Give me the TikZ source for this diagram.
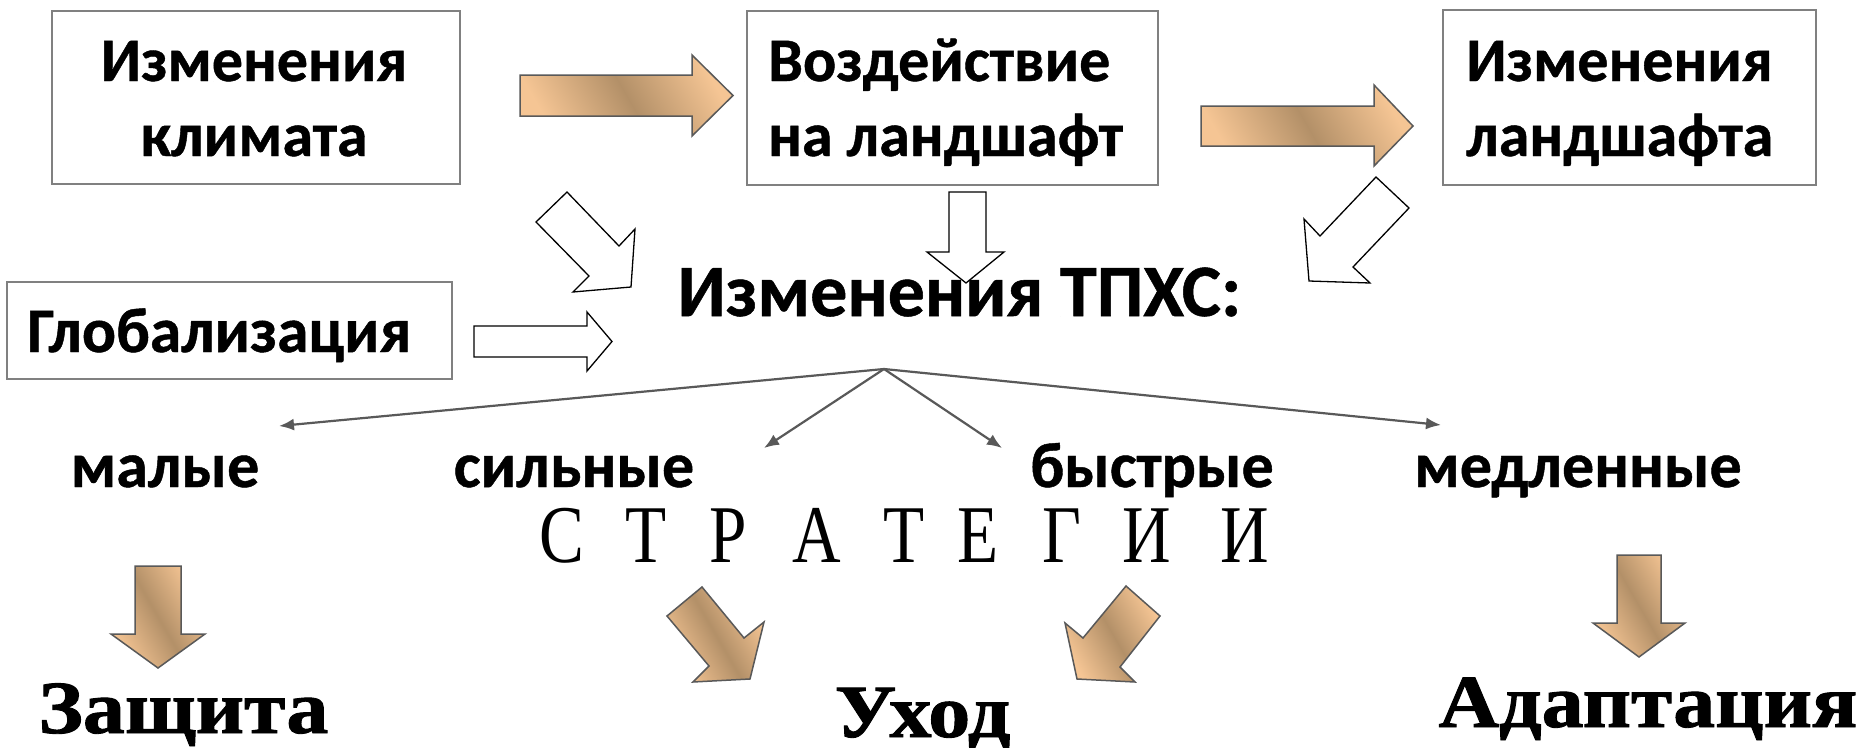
\documentclass[tikz,border=0pt]{standalone}
\usepackage{fontspec}
\setmainfont{Carlito}[BoldFeatures={FakeBold=0.7}]
\newfontfamily\serifA{Liberation Serif}[BoldFeatures={FakeBold=1.2}]
\usetikzlibrary{arrows.meta}
\definecolor{peach}{HTML}{F5C594}
\definecolor{tanc}{HTML}{B39068}
\definecolor{boxgray}{HTML}{808080}
\definecolor{linegray}{HTML}{595959}
\begin{document}
\begin{tikzpicture}[x=1pt,y=-1pt,
  box/.style={draw=boxgray,line width=1.5pt,fill=white,inner sep=0pt},
  lbl/.style={font=\bfseries\fontsize{62}{62}\selectfont,inner sep=0pt,anchor=base},
  big/.style={font=\bfseries\fontsize{74}{74}\selectfont,inner sep=0pt,anchor=base},
  small/.style={font=\bfseries\fontsize{64}{64}\selectfont,inner sep=0pt,anchor=base},
  strat/.style={font=\serifA\fontsize{82}{82}\selectfont,inner sep=0pt,anchor=base,xscale=0.82},
  res/.style={font=\serifA\bfseries\fontsize{75}{75}\selectfont,inner sep=0pt,anchor=base,xscale=1.12},
  brown/.style={draw=linegray,line width=1.5pt,line join=miter,left color=peach,right color=peach,middle color=tanc,shading angle=120},
  hollow/.style={draw=black,line width=1.3pt,fill=white,line join=miter},
  fan/.style={draw=linegray,line width=2.2pt,-{Latex[length=15pt,width=12pt]}}
]
\useasboundingbox (0,0) rectangle (1860,747);
\fill[white] (0,0) rectangle (1860,747);

% boxes
\node[box,minimum width=408pt,minimum height=173pt] (b1) at (256,97.5) {};
\node[box,minimum width=411pt,minimum height=174pt] (b2) at (952.5,98) {};
\node[box,minimum width=373pt,minimum height=175pt] (b3) at (1629.5,97.5) {};
\node[box,minimum width=445pt,minimum height=97pt] (b4) at (229.5,330.5) {};

\node[lbl] (t1a) at (254,81) {Изменения};
\node[lbl] (t1b) at (254,156) {климата};
\node[lbl,anchor=base west] (t2a) at (768,81) {Воздействие};
\node[lbl,anchor=base west] (t2b) at (768,156) {на ландшафт};
\node[lbl,anchor=base west] (t3a) at (1466,81) {Изменения};
\node[lbl,anchor=base west] (t3b) at (1466,156) {ландшафта};
\node[lbl,anchor=base west,font=\bfseries\fontsize{63.5}{63.5}\selectfont] (t4) at (27,352) {Глобализация};

% brown arrows top
\draw[brown] (520,75) -- (692,75) -- (692,55) -- (733,95.5) -- (692,136) -- (692,116) -- (520,116) -- cycle;
\draw[brown] (1201,106) -- (1374,106) -- (1374,85) -- (1413,126) -- (1374,166) -- (1374,146) -- (1201,146) -- cycle;

% hollow arrows
\draw[hollow] (474,326) -- (587,326) -- (587,312) -- (612,341.5) -- (587,371) -- (587,357) -- (474,357) -- cycle;
\draw[hollow] (949,192) -- (986,192) -- (986,252) -- (1004,252) -- (966,283) -- (927,252) -- (949,252) -- cycle;
\draw[hollow] (536,222) -- (567,192) -- (619,246) -- (635,229) -- (631,287) -- (573,292) -- (589,276) -- cycle;
\draw[hollow] (1376,177) -- (1409,208) -- (1353,267) -- (1370,283) -- (1309,281) -- (1304,219) -- (1320,236) -- cycle;

% central title
\node[big] (tpxs) at (959.5,316) {Изменения ТПХС:};

% fan
\coordinate (apex) at (884,369);
\coordinate (emal) at (279,426);
\coordinate (esil) at (764,448);
\coordinate (ebys) at (1002,448);
\coordinate (emed) at (1441,425);
\draw[fan] (apex) -- (emal);
\draw[fan] (apex) -- (esil);
\draw[fan] (apex) -- (ebys);
\draw[fan] (apex) -- (emed);

\node[small] (mal) at (165,487) {малые};
\node[small] (sil) at (574,487) {сильные};
\node[small] (bys) at (1152,487) {быстрые};
\node[small] (med) at (1578,487) {медленные};

% strategies
\node[strat] (s1) at (562,562) {С};
\node[strat] (s2) at (646,562) {Т};
\node[strat] (s3) at (728,562) {Р};
\node[strat] (s4) at (817,562) {А};
\node[strat] (s5) at (904,562) {Т};
\node[strat] (s6) at (978,562) {Е};
\node[strat] (s7) at (1062,562) {Г};
\node[strat] (s8) at (1147,562) {И};
\node[strat] (s9) at (1245,562) {И};

% brown arrows bottom
\draw[brown] (135,566) -- (181,566) -- (181,634) -- (205,634) -- (158,668) -- (111,634) -- (135,634) -- cycle;
\draw[brown] (1617,555) -- (1661,555) -- (1661,623) -- (1685,623) -- (1639,657) -- (1593,623) -- (1617,623) -- cycle;
\draw[brown] (667,616) -- (702,587) -- (744,638) -- (764,622) -- (750,679) -- (693,682) -- (709,666) -- cycle;
\draw[brown] (1126,586) -- (1160,616) -- (1120,667) -- (1135,682) -- (1077,679) -- (1065,623) -- (1083,638) -- cycle;

\node[res] (r1) at (183.5,733) {Защита};
\node[res] (r2) at (922.5,737) {Уход};
\node[res] (r3) at (1648,727) {Адаптация};
\end{tikzpicture}
\end{document}
